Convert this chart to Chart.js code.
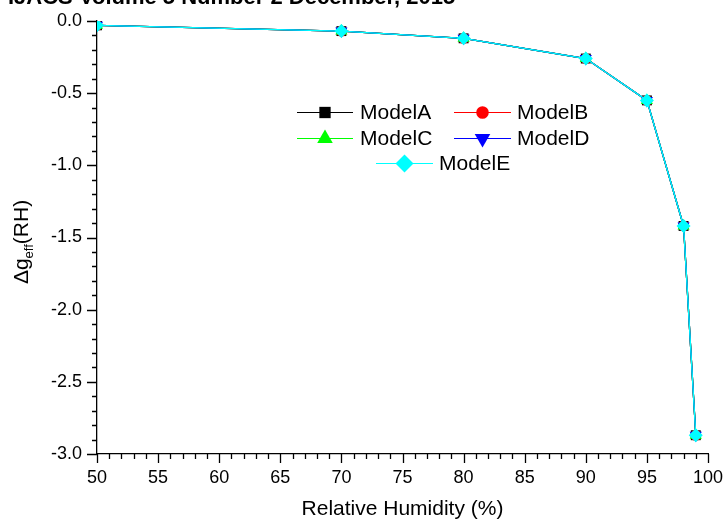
<!DOCTYPE html>
<html>
<head>
<meta charset="utf-8">
<script src="https://cdn.jsdelivr.net/npm/chart.js@4"></script>
<style>
    html, body { margin: 0; padding: 0; background: #fff; }
    #wrap { position: relative; width: 723px; height: 520px; }
</style>
</head>
<body>
<div id="wrap"><canvas id="rh-chart" width="723" height="520"></canvas></div>
<script>
// relative humidity (%) where each model was evaluated
const humidity = [50, 70, 80, 90, 95, 98, 99];
const modelA = [-0.03, -0.07, -0.12, -0.26, -0.55, -1.42, -2.87];
const modelB = [-0.03, -0.07, -0.12, -0.26, -0.55, -1.42, -2.87];
const modelC = [-0.03, -0.07, -0.12, -0.26, -0.55, -1.42, -2.87];
const modelD = [-0.03, -0.07, -0.12, -0.26, -0.55, -1.42, -2.87];
const modelE = [-0.03, -0.07, -0.12, -0.26, -0.55, -1.42, -2.87];
const modelNames = ['ModelA', 'ModelB', 'ModelC', 'ModelD', 'ModelE'];
const xTicks = [50, 55, 60, 65, 70, 75, 80, 85, 90, 95, 100];
const yTicks = [0, -0.5, -1.0, -1.5, -2.0, -2.5, -3.0];
const headerText = 'IJACS Volume 5 Number 2 December, 2015';

(function () {
    const FONT = '"Liberation Sans", Arial, sans-serif';
    const chart = document.getElementById('rh-chart');

    const styles = [
        { color: '#000000', pointStyle: 'rect', rotation: 0, radius: 7, legendRadius: 8 },
        { color: '#ff0000', pointStyle: 'circle', rotation: 0, radius: 5.5, legendRadius: 6.3 },
        { color: '#00ff00', pointStyle: 'triangle', rotation: 0, radius: 7, legendRadius: 9 },
        { color: '#0000ff', pointStyle: 'triangle', rotation: 180, radius: 7, legendRadius: 9 },
        { color: '#00ffff', pointStyle: 'rectRot', rotation: 0, radius: 7, legendRadius: 9 }
    ];
    const series = [modelA, modelB, modelC, modelD, modelE];

    const datasets = series.map(function (vals, i) {
        const s = styles[i];
        return {
            label: modelNames[i],
            data: humidity.map(function (x, j) { return { x: x, y: vals[j] }; }),
            borderColor: s.color,
            backgroundColor: s.color,
            borderWidth: 1.3,
            pointStyle: s.pointStyle,
            pointRotation: s.rotation,
            pointRadius: s.radius,
            pointBorderWidth: 0,
            pointBackgroundColor: s.color,
            tension: 0,
            order: 5 - i
        };
    });

    // minor / major tick marks, drawn outward like the original plot
    const tickMarks = {
        id: 'tickMarks',
        afterDraw(c) {
            const ctx = c.ctx;
            const xs = c.scales.x, ys = c.scales.y;
            const area = c.chartArea;
            ctx.save();
            ctx.strokeStyle = '#000';
            ctx.lineWidth = 1.3;
            ctx.beginPath();
            for (let v = 50; v <= 100; v++) {
                const px = Math.round(xs.getPixelForValue(v)) + 0.5;
                const len = v % 5 === 0 ? 9 : 5;
                ctx.moveTo(px, area.bottom);
                ctx.lineTo(px, area.bottom + len);
            }
            for (let k = 0; k <= 30; k++) {
                const py = Math.round(ys.getPixelForValue(-k / 10)) + 0.5;
                const len = k % 5 === 0 ? 10 : 5;
                ctx.moveTo(area.left, py);
                ctx.lineTo(area.left - len, py);
            }
            ctx.stroke();
            ctx.restore();
        }
    };

    const textBits = {
        id: 'textBits',
        afterDraw(c) {
            const ctx = c.ctx;
            ctx.save();
            ctx.fillStyle = '#000';
            // header, clipped at the top edge
            ctx.font = 'bold 22px ' + FONT;
            ctx.textBaseline = 'alphabetic';
            ctx.textAlign = 'left';
            ctx.fillText(headerText, 8, 4, 480);

            // y axis title with subscript
            ctx.translate(22, 242);
            ctx.rotate(-Math.PI / 2);
            const big = '21px ' + FONT, small = '13px ' + FONT;
            ctx.font = big;
            const w1 = ctx.measureText('\u0394g').width;
            const w3 = ctx.measureText('(RH)').width;
            ctx.font = small;
            const w2 = ctx.measureText('eff').width;
            let x = -(w1 + w2 + w3) / 2;
            ctx.textBaseline = 'middle';
            ctx.font = big;
            ctx.fillText('\u0394g', x, 0);
            x += w1;
            ctx.font = small;
            ctx.fillText('eff', x, 7);
            x += w2;
            ctx.font = big;
            ctx.fillText('(RH)', x, 0);
            ctx.restore();
        }
    };

    const boxLegend = {
        id: 'boxLegend',
        afterDraw(c) {
            const ctx = c.ctx;
            const slots = [
                { x0: 297, x1: 353, tx: 360, y: 112 },
                { x0: 454, x1: 511, tx: 517, y: 112 },
                { x0: 297, x1: 353, tx: 360, y: 138 },
                { x0: 454, x1: 511, tx: 517, y: 138 },
                { x0: 376, x1: 433, tx: 439, y: 163 }
            ];
            ctx.save();
            c.data.datasets.forEach(function (ds, i) {
                const p = slots[i];
                const s = styles[i];
                ctx.strokeStyle = ds.borderColor;
                ctx.lineWidth = 1.2;
                ctx.beginPath();
                ctx.moveTo(p.x0, p.y + 0.5);
                ctx.lineTo(p.x1, p.y + 0.5);
                ctx.stroke();
                ctx.fillStyle = ds.backgroundColor;
                Chart.helpers.drawPoint(ctx, {
                    pointStyle: s.pointStyle,
                    rotation: s.rotation,
                    radius: s.legendRadius,
                    borderWidth: 0
                }, (p.x0 + p.x1) / 2, p.y + 0.5);
                ctx.fillStyle = '#000';
                ctx.font = '21px ' + FONT;
                ctx.textBaseline = 'middle';
                ctx.textAlign = 'left';
                ctx.fillText(ds.label, p.tx, p.y + 1);
            });
            ctx.restore();
        }
    };

    new Chart(chart, {
        type: 'line',
        data: { datasets: datasets },
        options: {
            responsive: false,
            animation: false,
            layout: { padding: { top: 21, right: 15, left: 0, bottom: 0 } },
            scales: {
                x: {
                    type: 'linear',
                    min: 50,
                    max: 100,
                    afterBuildTicks(s) { s.ticks = xTicks.map(function (v) { return { value: v }; }); },
                    afterFit(s) {
                        s.height = 66;
                        s.paddingLeft = 0;
                        s.paddingRight = 0;
                    },
                    ticks: {
                        color: '#000',
                        font: { family: FONT, size: 18 },
                        padding: 13,
                        maxRotation: 0,
                        autoSkip: false
                    },
                    grid: { display: false, drawTicks: false },
                    border: { display: true, color: '#000', width: 1.3 },
                    title: {
                        display: true,
                        text: 'Relative Humidity (%)',
                        color: '#000',
                        font: { family: FONT, size: 21, lineHeight: 1 },
                        padding: { top: 0, bottom: 0 }
                    }
                },
                y: {
                    min: -3,
                    max: 0,
                    afterBuildTicks(s) { s.ticks = yTicks.map(function (v) { return { value: v }; }); },
                    afterFit(s) {
                        s.width = 97;
                        s.paddingTop = 0;
                        s.paddingBottom = 0;
                    },
                    ticks: {
                        color: '#000',
                        font: { family: FONT, size: 18 },
                        padding: 15,
                        callback: function (v) { return Number(v).toFixed(1); }
                    },
                    grid: { display: false, drawTicks: false },
                    border: { display: true, color: '#000', width: 1.3 }
                }
            },
            plugins: {
                legend: { display: false },
                tooltip: { enabled: false }
            }
        },
        plugins: [tickMarks, textBits, boxLegend]
    });
})();
</script>
</body>
</html>
